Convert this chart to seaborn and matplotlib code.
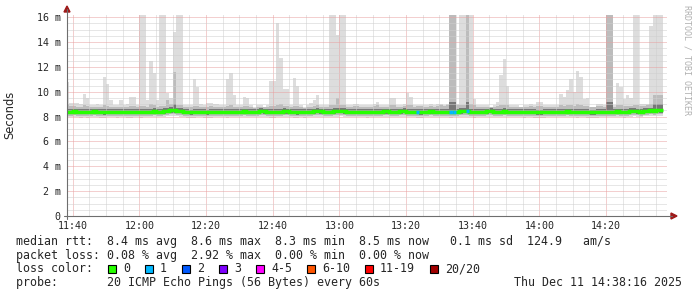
import matplotlib
matplotlib.use("Agg")
import matplotlib.pyplot as plt
from matplotlib.patches import Rectangle, Polygon
from matplotlib.lines import Line2D
import seaborn as sns

# ---------------- data (one bin per minute, bin 0 = 11:38) ----------------
rtt_max = [
    10.8, 9.1, 9.1, 9.1, 9.0, 9.8, 9.5, 8.9, 8.9, 9.0,
    8.9, 11.2, 10.6, 9.3, 8.9, 8.9, 9.3, 8.9, 9.0, 9.55,
    9.55, 8.9, 16.5, 16.5, 9.3, 12.5, 11.5, 9.3, 16.5, 16.5,
    9.9, 9.5, 14.8, 16.5, 16.5, 8.9, 8.9, 8.9, 11.0, 10.4,
    9.0, 8.9, 9.1, 9.1, 9.0, 9.0, 8.9, 8.9, 11.0, 11.5,
    9.7, 8.9, 8.9, 9.55, 9.5, 8.9, 8.8, 8.9, 8.9, 8.8,
    8.9, 10.9, 10.9, 15.5, 12.7, 10.2, 10.2, 8.9, 11.1, 10.5,
    8.9, 8.8, 8.9, 9.1, 9.3, 9.75, 8.9, 8.9, 8.9, 16.5,
    16.5, 14.6, 16.5, 16.5, 8.9, 8.9, 9.0, 9.0, 8.9, 8.9,
    8.9, 8.9, 9.0, 9.2, 8.9, 8.9, 8.9, 9.5, 9.5, 8.9,
    8.9, 9.0, 9.9, 9.55, 8.9, 8.9, 8.9, 8.9, 8.9, 9.0,
    8.9, 9.0, 9.0, 8.9, 9.0, 16.5, 16.5, 9.0, 16.5, 16.5,
    16.5, 16.5, 9.4, 8.9, 8.9, 8.9, 8.9, 8.8, 8.9, 9.2,
    11.35, 12.6, 10.5, 8.9, 8.9, 8.9, 8.8, 8.9, 8.9, 9.0,
    8.9, 9.2, 9.2, 8.9, 8.9, 8.9, 8.9, 8.9, 9.8, 9.55,
    10.15, 11.0, 10.0, 11.7, 11.2, 9.4, 9.5, 8.8, 8.8, 9.0,
    9.0, 8.9, 16.5, 16.5, 8.9, 10.7, 10.35, 9.4, 9.75, 9.5,
    16.5, 16.5, 9.0, 9.0, 9.0, 15.3, 16.5, 16.5, 16.5,
]
rtt_hi2 = [
    9.0, 8.85, 8.85, 8.8, 8.8, 8.9, 8.85, 8.75, 8.8, 8.8,
    8.75, 8.9, 8.85, 8.8, 8.75, 8.75, 8.8, 8.75, 8.8, 8.85,
    8.85, 8.75, 8.85, 8.85, 8.8, 9.0, 8.9, 8.8, 8.85, 8.85,
    9.3, 9.0, 11.6, 8.95, 8.9, 8.8, 8.75, 8.75, 8.85, 8.85,
    8.8, 8.75, 8.8, 8.85, 8.8, 8.8, 8.75, 8.75, 8.85, 8.9,
    8.8, 8.75, 8.8, 8.85, 8.85, 8.75, 8.7, 8.75, 8.8, 8.75,
    8.8, 8.85, 8.85, 8.95, 9.0, 8.85, 8.85, 8.8, 8.85, 8.85,
    8.75, 8.7, 8.75, 8.8, 8.85, 8.9, 8.8, 8.75, 8.8, 8.9,
    8.9, 9.5, 8.9, 8.9, 8.8, 8.8, 8.85, 8.85, 8.8, 8.75,
    8.75, 8.8, 8.85, 8.9, 8.8, 8.8, 8.8, 8.9, 8.9, 8.8,
    8.8, 8.85, 8.9, 8.9, 8.8, 8.85, 8.85, 8.8, 8.8, 8.85,
    8.8, 8.85, 8.9, 8.85, 8.9, 16.5, 16.5, 8.9, 8.95, 8.95,
    16.5, 9.0, 8.9, 8.8, 8.8, 8.75, 8.8, 8.75, 8.8, 8.85,
    8.9, 8.95, 8.9, 8.8, 8.75, 8.8, 8.75, 8.75, 8.8, 8.85,
    8.8, 8.85, 8.85, 8.8, 8.75, 8.75, 8.8, 8.8, 8.9, 8.85,
    8.9, 8.9, 8.85, 9.0, 8.95, 8.85, 8.85, 8.75, 8.75, 8.85,
    8.85, 8.8, 16.5, 16.5, 8.8, 8.9, 8.9, 8.85, 8.85, 8.85,
    8.9, 8.9, 8.85, 8.85, 8.9, 9.0, 9.75, 9.75, 9.75,
]
rtt_hi1 = [
    8.60, 8.62, 8.64, 8.62, 8.58, 8.62, 8.58, 8.60, 8.64, 8.62,
    8.58, 8.58, 8.62, 8.62, 8.62, 8.58, 8.60, 8.62, 8.58, 8.60,
    8.60, 8.60, 8.60, 8.62, 8.62, 8.64, 8.66, 8.60, 8.62, 8.66,
    8.70, 8.74, 9.00, 8.70, 8.66, 8.62, 8.58, 8.56, 8.58, 8.64,
    8.60, 8.58, 8.56, 8.58, 8.60, 8.60, 8.62, 8.62, 8.58, 8.64,
    8.60, 8.60, 8.62, 8.64, 8.62, 8.62, 8.60, 8.62, 8.66, 8.64,
    8.60, 8.60, 8.60, 8.62, 8.64, 8.66, 8.64, 8.62, 8.60, 8.58,
    8.60, 8.58, 8.60, 8.62, 8.64, 8.68, 8.64, 8.62, 8.60, 8.64,
    8.66, 8.70, 8.70, 8.66, 8.62, 8.60, 8.60, 8.62, 8.62, 8.60,
    8.58, 8.60, 8.60, 8.62, 8.62, 8.64, 8.64, 8.62, 8.60, 8.62,
    8.64, 8.66, 8.62, 8.60, 8.62, 8.60, 8.58, 8.60, 8.62, 8.64,
    8.62, 8.60, 8.60, 8.62, 8.62, 9.20, 9.20, 8.62, 8.66, 8.68,
    9.20, 8.64, 8.58, 8.60, 8.62, 8.62, 8.64, 8.66, 8.62, 8.60,
    8.62, 8.66, 8.62, 8.60, 8.60, 8.62, 8.60, 8.58, 8.60, 8.62,
    8.58, 8.56, 8.56, 8.58, 8.60, 8.60, 8.62, 8.60, 8.62, 8.62,
    8.64, 8.62, 8.60, 8.60, 8.62, 8.62, 8.58, 8.56, 8.56, 8.58,
    8.60, 8.62, 9.20, 9.20, 8.62, 8.64, 8.60, 8.58, 8.62, 8.66,
    8.68, 8.64, 8.60, 8.68, 8.70, 8.72, 9.00, 9.00, 9.00,
]
rtt_median = [
    8.38, 8.40, 8.42, 8.40, 8.36, 8.38, 8.36, 8.40, 8.42, 8.40,
    8.36, 8.34, 8.38, 8.40, 8.40, 8.36, 8.38, 8.40, 8.36, 8.36,
    8.38, 8.38, 8.36, 8.38, 8.40, 8.40, 8.42, 8.38, 8.40, 8.42,
    8.46, 8.50, 8.52, 8.48, 8.44, 8.40, 8.36, 8.34, 8.36, 8.40,
    8.38, 8.36, 8.34, 8.36, 8.38, 8.38, 8.40, 8.40, 8.36, 8.40,
    8.38, 8.38, 8.40, 8.42, 8.40, 8.40, 8.38, 8.40, 8.44, 8.42,
    8.38, 8.36, 8.36, 8.38, 8.40, 8.42, 8.42, 8.40, 8.36, 8.34,
    8.38, 8.36, 8.38, 8.40, 8.42, 8.44, 8.42, 8.40, 8.38, 8.40,
    8.42, 8.44, 8.46, 8.42, 8.40, 8.38, 8.38, 8.40, 8.40, 8.38,
    8.36, 8.38, 8.38, 8.40, 8.40, 8.42, 8.42, 8.40, 8.38, 8.40,
    8.42, 8.44, 8.40, 8.38, 8.40, 8.36, 8.34, 8.38, 8.40, 8.42,
    8.40, 8.38, 8.38, 8.40, 8.40, 8.36, 8.38, 8.40, 8.42, 8.44,
    8.44, 8.40, 8.36, 8.38, 8.40, 8.40, 8.42, 8.44, 8.40, 8.38,
    8.40, 8.42, 8.40, 8.38, 8.38, 8.40, 8.38, 8.36, 8.38, 8.40,
    8.36, 8.34, 8.34, 8.36, 8.38, 8.38, 8.40, 8.38, 8.40, 8.40,
    8.42, 8.40, 8.38, 8.36, 8.38, 8.40, 8.36, 8.34, 8.34, 8.36,
    8.38, 8.40, 8.40, 8.38, 8.40, 8.42, 8.38, 8.36, 8.40, 8.44,
    8.46, 8.42, 8.38, 8.46, 8.48, 8.50, 8.48, 8.52, 8.50,
]
rtt_lo1 = [
    8.20, 8.22, 8.24, 8.22, 8.18, 8.20, 8.18, 8.22, 8.24, 8.22,
    8.18, 8.16, 8.20, 8.22, 8.22, 8.18, 8.20, 8.22, 8.18, 8.18,
    8.20, 8.20, 8.18, 8.20, 8.22, 8.22, 8.24, 8.20, 8.22, 8.24,
    8.28, 8.32, 8.32, 8.30, 8.26, 8.22, 8.18, 8.16, 8.18, 8.22,
    8.20, 8.18, 8.16, 8.18, 8.20, 8.20, 8.22, 8.22, 8.18, 8.22,
    8.20, 8.20, 8.22, 8.24, 8.22, 8.22, 8.20, 8.22, 8.26, 8.24,
    8.20, 8.18, 8.18, 8.20, 8.22, 8.24, 8.24, 8.22, 8.18, 8.16,
    8.20, 8.18, 8.20, 8.22, 8.24, 8.26, 8.24, 8.22, 8.20, 8.22,
    8.24, 8.26, 8.28, 8.24, 8.22, 8.20, 8.20, 8.22, 8.22, 8.20,
    8.18, 8.20, 8.20, 8.22, 8.22, 8.24, 8.24, 8.22, 8.20, 8.22,
    8.24, 8.26, 8.22, 8.20, 8.22, 8.18, 8.16, 8.20, 8.22, 8.24,
    8.22, 8.20, 8.20, 8.22, 8.22, 8.18, 8.20, 8.22, 8.24, 8.26,
    8.26, 8.22, 8.18, 8.20, 8.22, 8.22, 8.24, 8.26, 8.22, 8.20,
    8.22, 8.24, 8.22, 8.20, 8.20, 8.22, 8.20, 8.18, 8.20, 8.22,
    8.18, 8.16, 8.16, 8.18, 8.20, 8.20, 8.22, 8.20, 8.22, 8.22,
    8.24, 8.22, 8.20, 8.18, 8.20, 8.22, 8.18, 8.16, 8.16, 8.18,
    8.20, 8.22, 8.22, 8.20, 8.22, 8.24, 8.20, 8.18, 8.22, 8.26,
    8.28, 8.24, 8.20, 8.28, 8.30, 8.32, 8.30, 8.34, 8.32,
]
rtt_lo2 = [
    8.06, 8.08, 8.10, 8.08, 8.04, 8.06, 8.04, 8.08, 8.10, 8.08,
    8.04, 8.02, 8.06, 8.08, 8.08, 8.04, 8.06, 8.08, 8.04, 8.04,
    8.06, 8.06, 8.04, 8.06, 8.08, 8.08, 8.10, 8.06, 8.08, 8.10,
    8.14, 8.18, 8.18, 8.16, 8.12, 8.08, 8.04, 8.02, 8.04, 8.08,
    8.06, 8.04, 8.02, 8.04, 8.06, 8.06, 8.08, 8.08, 8.04, 8.08,
    8.06, 8.06, 8.08, 8.10, 8.08, 8.08, 8.06, 8.08, 8.12, 8.10,
    8.06, 8.04, 8.04, 8.06, 8.08, 8.10, 8.10, 8.08, 8.04, 8.02,
    8.06, 8.04, 8.06, 8.08, 8.10, 8.12, 8.10, 8.08, 8.06, 8.08,
    8.10, 8.12, 8.14, 8.10, 8.08, 8.06, 8.06, 8.08, 8.08, 8.06,
    8.04, 8.06, 8.06, 8.08, 8.08, 8.10, 8.10, 8.08, 8.06, 8.08,
    8.10, 8.12, 8.08, 8.06, 8.08, 8.04, 8.02, 8.06, 8.08, 8.10,
    8.08, 8.06, 8.06, 8.08, 8.08, 8.04, 8.06, 8.08, 8.10, 8.12,
    8.12, 8.08, 8.04, 8.06, 8.08, 8.08, 8.10, 8.12, 8.08, 8.06,
    8.08, 8.10, 8.08, 8.06, 8.06, 8.08, 8.06, 8.04, 8.06, 8.08,
    8.04, 8.02, 8.02, 8.04, 8.06, 8.06, 8.08, 8.06, 8.08, 8.08,
    8.10, 8.08, 8.06, 8.04, 8.06, 8.08, 8.04, 8.02, 8.02, 8.04,
    8.06, 8.08, 8.08, 8.06, 8.08, 8.10, 8.06, 8.04, 8.08, 8.12,
    8.14, 8.10, 8.06, 8.14, 8.16, 8.18, 8.16, 8.20, 8.18,
]
rtt_min = [
    7.94, 7.96, 7.98, 7.96, 7.92, 7.94, 7.92, 7.96, 7.98, 7.96,
    7.92, 7.90, 7.94, 7.96, 7.96, 7.92, 7.94, 7.96, 7.92, 7.92,
    7.94, 7.94, 7.92, 7.94, 7.96, 7.96, 7.98, 7.94, 7.96, 7.98,
    8.02, 8.06, 8.06, 8.04, 8.00, 7.96, 7.92, 7.90, 7.92, 7.96,
    7.94, 7.92, 7.90, 7.92, 7.94, 7.94, 7.96, 7.96, 7.92, 7.96,
    7.94, 7.94, 7.96, 7.98, 7.96, 7.96, 7.94, 7.96, 8.00, 7.98,
    7.94, 7.92, 7.92, 7.94, 7.96, 7.98, 7.98, 7.96, 7.92, 7.90,
    7.94, 7.92, 7.94, 7.96, 7.98, 8.00, 7.98, 7.96, 7.94, 7.96,
    7.98, 8.00, 8.02, 7.98, 7.96, 7.94, 7.94, 7.96, 7.96, 7.94,
    7.92, 7.94, 7.94, 7.96, 7.96, 7.98, 7.98, 7.96, 7.94, 7.96,
    7.98, 8.00, 7.96, 7.94, 7.96, 7.92, 7.90, 7.94, 7.96, 7.98,
    7.96, 7.94, 7.94, 7.96, 7.96, 7.92, 7.94, 7.96, 7.98, 8.00,
    8.00, 7.96, 7.92, 7.94, 7.96, 7.96, 7.98, 8.00, 7.96, 7.94,
    7.96, 7.98, 7.96, 7.94, 7.94, 7.96, 7.94, 7.92, 7.94, 7.96,
    7.92, 7.90, 7.90, 7.92, 7.94, 7.94, 7.96, 7.94, 7.96, 7.96,
    7.98, 7.96, 7.94, 7.92, 7.94, 7.96, 7.92, 7.90, 7.90, 7.92,
    7.94, 7.96, 7.96, 7.94, 7.96, 7.98, 7.94, 7.92, 7.96, 8.00,
    8.02, 7.98, 7.94, 8.02, 8.04, 8.06, 8.04, 8.08, 8.06,
]
loss_bins = [105, 115, 116, 120]
loss_counts = [1, 1, 1, 1]

loss_labels = ["0", "1", "2", "3", "4-5", "6-10", "11-19", "20/20"]
loss_colors = ["#26ff00", "#00b8ff", "#0059ff", "#7e00ff", "#ff00ff",
               "#ff5500", "#ff0000", "#a10000"]

time_labels = ["11:40", "12:00", "12:20", "12:40", "13:00", "13:20",
               "13:40", "14:00", "14:20"]
y_labels = ["0", "2 m", "4 m", "6 m", "8 m", "10 m", "12 m", "14 m", "16 m"]

line_rtt = ("median rtt:  8.4 ms avg  8.6 ms max  8.3 ms min  "
            "8.5 ms now   0.1 ms sd  124.9   am/s")
line_loss = "packet loss: 0.08 % avg  2.92 % max  0.00 % min  0.00 % now"
line_probe = "probe:       20 ICMP Echo Pings (56 Bytes) every 60s"
stamp = "Thu Dec 11 14:38:16 2025"

# ---------------- drawing ----------------
sns.set_style("white")
plt.rcParams["font.family"] = ["DejaVu Sans Mono"]

W, H = 697, 297
fig = plt.figure(figsize=(W / 100, H / 100), dpi=100)
fig.patch.set_facecolor("white")
ax = fig.add_axes([67 / W, (H - 216) / H, 600 / W, 201 / H])
ax.set_facecolor("white")

n = len(rtt_max)
for arr in (rtt_hi2, rtt_hi1, rtt_median, rtt_lo1, rtt_lo2, rtt_min):
    assert len(arr) == n
x_e = list(range(n + 1))


def ext(a):
    return list(a) + [a[-1]]


ax.fill_between(x_e, ext(rtt_min), ext(rtt_max), step="post",
                color="#dddddd", lw=0, zorder=1)
ax.fill_between(x_e, ext(rtt_lo2), ext(rtt_hi2), step="post",
                color="#bcbcbc", lw=0, zorder=1.1)
ax.fill_between(x_e, ext(rtt_lo1), ext(rtt_hi1), step="post",
                color="#777777", lw=0, zorder=1.2)

sns.lineplot(x=x_e, y=ext(rtt_median), drawstyle="steps-post",
             color=loss_colors[0], lw=2.5, ax=ax, zorder=3,
             solid_joinstyle="miter", solid_capstyle="butt")
for j, c in zip(loss_bins, loss_counts):
    ax.hlines(rtt_median[j], j, j + 1, color=loss_colors[c], lw=2.5,
              zorder=4)

ax.set_xlim(16 / 60, 180 + 16 / 60)
ax.set_ylim(0, 16.18)
ax.set_xticks([2 + 20 * i for i in range(len(time_labels))])
ax.set_xticklabels(time_labels)
ax.set_xticks([2 + 5 * i for i in range(36)], minor=True)
ax.set_yticks([2 * i for i in range(len(y_labels))])
ax.set_yticklabels(y_labels)
ax.set_yticks([0.5 * i for i in range(33)], minor=True)
ax.set_axisbelow("line")
ax.grid(which="minor", color="#cfcfcf", linestyle=(0, (1, 1)), lw=0.72)
ax.grid(which="major", color="#e8a0a0", linestyle=(0, (1, 1)), lw=0.72)
ax.tick_params(which="both", length=0)
ax.tick_params(axis="y", pad=4.5, labelsize=7.2)
ax.tick_params(axis="x", pad=3.5, labelsize=7.2)
for s in ax.spines.values():
    s.set_visible(False)
ax.set_xlabel("")
ax.set_ylabel("")


def fx(px):
    return px / W


def fy(py):
    return 1 - py / H


# axes with arrows
fig.add_artist(Line2D([fx(67), fx(67)], [fy(219), fy(9)], color="#6e6e6e",
                      lw=0.8, transform=fig.transFigure))
fig.add_artist(Line2D([fx(64), fx(672)], [fy(216), fy(216)],
                      color="#6e6e6e", lw=0.8, transform=fig.transFigure))
fig.add_artist(Polygon([[fx(64), fy(12)], [fx(70), fy(12)], [fx(67), fy(6)]],
                       closed=True, color="#9e1a1a", transform=fig.transFigure))
fig.add_artist(Polygon([[fx(671), fy(213)], [fx(671), fy(219)],
                        [fx(677), fy(216)]],
                       closed=True, color="#9e1a1a", transform=fig.transFigure))

fig.text(fx(10), fy(115), "Seconds", rotation=90, ha="center", va="center",
         fontsize=8.3, family=["DejaVu Sans"])
fig.text(fx(687), fy(60), "RRDTOOL / TOBI OETIKER", rotation=270,
         ha="center", va="center", fontsize=6, color="#b0b0b0")

fs = 8.4
fig.text(fx(16), fy(241.5), line_rtt, fontsize=fs, va="center", ha="left")
fig.text(fx(16), fy(255), line_loss, fontsize=fs, va="center", ha="left")
fig.text(fx(16), fy(268.5), "loss color:", fontsize=fs, va="center", ha="left")
box_x = [108, 145, 182, 219, 256, 307, 365, 430]
for bx, lab, col in zip(box_x, loss_labels, loss_colors):
    fig.add_artist(Rectangle((fx(bx), fy(272.5)), 8 / W, 8 / H,
                             facecolor=col, edgecolor="black", lw=0.8,
                             transform=fig.transFigure))
    fig.text(fx(bx + 15), fy(268.5), lab, fontsize=fs, va="center", ha="left")
fig.text(fx(16), fy(282.5), line_probe, fontsize=fs, va="center", ha="left")
fig.text(fx(682), fy(282.5), stamp, fontsize=fs, va="center", ha="right")

fig.savefig("out.png", dpi=100, facecolor="white")
